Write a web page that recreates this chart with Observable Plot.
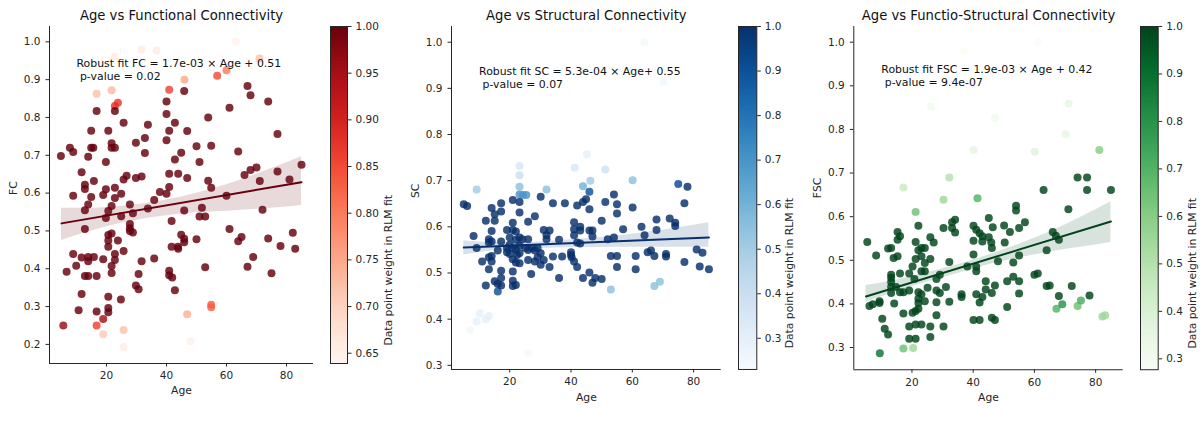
<!DOCTYPE html>
<html><head><meta charset="utf-8">
<script src="https://cdn.jsdelivr.net/npm/d3@7"></script>
<script src="https://cdn.jsdelivr.net/npm/@observablehq/plot@0.6"></script>
<style>
body{margin:0;background:#fff;font-family:"DejaVu Sans",sans-serif;}
#chart{position:relative;width:1200px;height:422px;overflow:hidden;background:#fff;}
#chart svg{position:absolute;top:0;}
</style></head><body><div id="chart"></div>
<script>
// ---------- Data: [age, value, weight] ----------
const fcPoints = [
[63,1.0,0.645],[31.7,0.98,0.66],[36.7,0.977,0.66],[22.8,0.96,0.66],[71,0.956,0.72],[60,0.925,0.8],[56.9,0.91,0.85],[46,0.9,0.75],[40.9,0.873,0.86],[16.7,0.863,0.72],[21.7,0.872,0.73],[23.8,0.839,0.87],[22.8,0.83,0.88],[16.7,0.25,0.86],[18.9,0.267,0.95],[18.9,0.227,0.71],[25.7,0.238,0.72],[25.7,0.193,0.66],[46.9,0.28,0.74],[48,0.208,0.65],[54.9,0.305,0.83],[54.9,0.298,0.83],
[4.8,0.698,1],[5.6,0.25,0.96],[6.7,0.392,1],[7.8,0.72,1],[8.9,0.709,1],[8.9,0.593,1],[8.9,0.439,1],[9.9,0.408,1],[10.7,0.29,1],[11.7,0.655,1],[11.7,0.43,1],[11.7,0.333,1],[12.8,0.622,1],[12.8,0.611,1],[12.8,0.555,1],[12.8,0.505,1],[12.8,0.381,1],[13.9,0.696,1],[13.9,0.57,1],[13.9,0.431,1],[13.9,0.42,1],[13.9,0.381,1],[14.9,0.765,1],[14.9,0.72,1],[14.9,0.59,1],[15.6,0.72,1],[15.8,0.632,1],[15.8,0.431,1],[16.7,0.817,1],[16.7,0.381,1],[16.7,0.287,1],[18.9,0.425,1],[18.9,0.595,1],[19.8,0.682,1],[19.8,0.61,1],[19.8,0.534,1],[20.6,0.765,1],[20.6,0.553,1],[20.6,0.489,1],[20.6,0.475,1],[20.6,0.458,1],[20.6,0.326,1],[20.6,0.296,1],[20.6,0.285,1],[21.7,0.732,1],[21.7,0.72,1],[21.7,0.566,1],[21.7,0.493,1],[21.7,0.407,1],[21.7,0.389,1],[22.8,0.817,1],[22.8,0.72,1],[22.8,0.614,1],[22.8,0.587,1],[22.8,0.439,1],[22.8,0.423,1],[23.8,0.475,1],[24.8,0.319,1],[24.9,0.598,1],[24.9,0.539,1],[25.7,0.786,1],[25.7,0.636,1],[25.7,0.447,1],[26.7,0.646,1],[27.8,0.57,1],[27.8,0.518,1],[27.8,0.507,1],[27.8,0.5,1],[28.8,0.547,1],[28.8,0.496,1],[29.8,0.733,1],[29.8,0.64,1],[29.8,0.356,1],[30.7,0.386,1],[30.7,0.346,1],[31.7,0.644,1],[31.7,0.42,1],[32.8,0.746,1],[32.8,0.706,1],[33.8,0.781,1],[33.8,0.559,1],[35.9,0.427,1],[35.9,0.582,1],[37.8,0.603,1],[40,0.842,1],[40,0.809,1],[40,0.74,1],[40,0.598,1],[40.9,0.765,1],[40.9,0.651,1],[40.9,0.616,1],[40.9,0.395,1],[40.9,0.383,1],[41.7,0.458,1],[41.7,0.526,1],[41.9,0.377,1],[42.8,0.786,1],[42.8,0.689,1],[42.8,0.343,1],[43.8,0.458,1],[43.9,0.651,1],[43.9,0.453,1],[44.9,0.707,1],[44.9,0.49,1],[45.9,0.554,1],[45.9,0.479,1],[45.9,0.47,1],[45.9,0.87,1],[46.9,0.764,1],[46.9,0.64,1],[50,0.724,1],[50,0.478,1],[51,0.682,1],[51,0.538,1],[51.8,0.561,1],[52.9,0.538,1],[52.9,0.404,1],[53.9,0.8,1],[53.9,0.633,1],[54.9,0.725,1],[54.9,0.614,1],[60,0.593,1],[61,0.826,1],[61,0.505,1],[63.9,0.71,1],[63.9,0.473,1],[65,0.484,1],[66,0.648,1],[67,0.883,1],[67,0.405,1],[68,0.661,1],[68,0.859,1],[68.9,0.431,1],[70,0.668,1],[71.1,0.632,1],[72,0.556,1],[73.9,0.842,1],[73.9,0.48,1],[75,0.388,1],[77,0.756,1],[77,0.657,1],[78,0.46,1],[81,0.636,1],[82.1,0.495,1],[82.9,0.453,1],[85,0.675,1]
];
const scPoints = [
[64,1.0,0.25],[70.2,0.915,0.26],[23.2,0.732,0.35],[23.2,0.712,0.4],[41.2,0.728,0.35],[45.2,0.757,0.3],[51.2,0.724,0.38],[60.1,0.701,0.55],[46.3,0.70,0.5],[43.9,0.688,0.6],[23.2,0.687,0.55],[9.2,0.681,0.5],[32,0.681,0.55],[23.2,0.67,0.7],[24.3,0.669,0.7],[25.4,0.669,0.7],[53,0.464,0.55],[67.2,0.472,0.55],[69,0.481,0.55],[7.1,0.377,0.25],[9.2,0.395,0.3],[10.2,0.413,0.3],[12.2,0.40,0.3],[13.2,0.407,0.3],[26,0.327,0.24],
[5,0.649,1],[6.1,0.645,1],[8.2,0.58,1],[9.2,0.554,1],[11,0.525,1],[12.2,0.613,1],[12.2,0.473,1],[13.2,0.573,1],[13.2,0.566,1],[13.2,0.534,1],[13.2,0.508,1],[14.1,0.641,1],[14.1,0.591,1],[14.1,0.568,1],[14.1,0.525,1],[14.1,0.537,1],[15.1,0.627,1],[15.1,0.613,1],[15.1,0.482,1],[16.1,0.549,1],[16.1,0.476,1],[16.1,0.46,0.9],[17.2,0.651,1],[17.2,0.633,1],[17.2,0.568,1],[17.2,0.505,1],[17.2,0.489,1],[17.2,0.473,1],[19.1,0.593,1],[19.1,0.554,1],[19.1,0.545,1],[20,0.577,1],[20,0.561,1],[20,0.541,1],[21,0.658,1],[21,0.609,1],[21,0.593,1],[21,0.554,1],[21,0.53,1],[21,0.503,1],[21,0.483,1],[21,0.472,1],[22,0.59,1],[22,0.572,1],[22,0.55,1],[22,0.523,1],[22,0.474,1],[22.4,0.539,1],[23.2,0.654,1],[23.2,0.631,1],[23.2,0.577,1],[23.2,0.559,1],[23.2,0.543,1],[23.2,0.521,1],[24.1,0.573,1],[25.1,0.554,1],[26,0.611,1],[26,0.573,1],[26,0.528,1],[26,0.55,1],[27,0.498,1],[27.2,0.554,1],[28.2,0.623,1],[28.2,0.549,1],[28.2,0.525,1],[29.1,0.554,1],[29.1,0.534,1],[30.1,0.665,1],[30.1,0.543,1],[30.1,0.518,1],[31.1,0.593,1],[31.1,0.528,1],[32,0.582,1],[32,0.573,1],[33,0.592,1],[33,0.513,1],[34.1,0.651,1],[34.1,0.536,1],[36.1,0.489,1],[36.1,0.572,1],[37.1,0.536,1],[38,0.651,1],[40,0.545,1],[40,0.539,1],[40.2,0.534,1],[41,0.61,1],[41,0.595,1],[41,0.582,1],[41,0.525,1],[42,0.646,1],[42,0.566,1],[42,0.513,1],[43,0.60,1],[43,0.592,1],[43,0.564,1],[43.9,0.654,1],[43.9,0.489,1],[44.9,0.66,1],[46,0.676,0.9],[46,0.638,1],[46,0.592,1],[46,0.501,1],[47,0.592,1],[47,0.579,1],[47,0.479,1],[47.9,0.489,1],[50,0.487,1],[50,0.613,1],[51.2,0.654,1],[52,0.573,1],[53,0.537,1],[54,0.67,1],[54,0.577,1],[55,0.649,1],[55,0.629,1],[55,0.537,1],[55,0.513,1],[57,0.595,1],[60.1,0.642,1],[61.1,0.537,1],[61.1,0.508,1],[63,0.60,1],[64,0.582,1],[65,0.545,1],[66.1,0.549,1],[67.2,0.537,1],[67.9,0.616,1],[67.9,0.593,1],[71,0.541,1],[71,0.536,1],[72.2,0.618,1],[74,0.609,1],[74,0.602,1],[75,0.693,0.92],[77,0.651,1],[77,0.524,1],[78,0.687,1],[81,0.551,1],[82,0.514,1],[82.9,0.544,1],[85,0.508,1]
];
const fscPoints = [
[61.1,1.0,0.28],[37,0.979,0.28],[71.2,0.859,0.35],[26.2,0.852,0.3],[47.1,0.826,0.3],[70.2,0.789,0.35],[40.2,0.753,0.35],[60.1,0.749,0.38],[81.2,0.753,0.6],[32.2,0.69,0.5],[17.2,0.667,0.45],[30.3,0.639,0.55],[41.4,0.642,0.7],[21.2,0.611,0.65],[17.2,0.298,0.65],[20.4,0.299,0.55],[67.2,0.389,0.7],[69.1,0.399,0.8],[74.1,0.395,0.65],[75.2,0.408,0.72],[82.2,0.371,0.55],[83.1,0.374,0.55],[9.5,0.287,0.88],
[5.4,0.542,1],[6.1,0.395,1],[7.2,0.399,1],[8.3,0.511,1],[9.4,0.406,1],[9.4,0.402,1],[10.3,0.366,1],[11.1,0.343,1],[12.2,0.33,1],[12.2,0.527,1],[13.2,0.528,1],[13.2,0.467,1],[13.2,0.46,1],[13.2,0.45,1],[13.2,0.439,1],[13.2,0.425,1],[14,0.505,1],[14.2,0.401,1],[14.8,0.439,1],[15.3,0.565,1],[15.3,0.547,1],[15.3,0.509,1],[16.1,0.555,1],[16.1,0.47,1],[16.1,0.427,1],[17.2,0.378,1],[17.2,0.427,1],[19.1,0.47,1],[19.1,0.431,1],[19.1,0.348,1],[19.1,0.32,1],[20.2,0.38,1],[20.2,0.486,1],[20.8,0.457,1],[21.2,0.542,1],[21.2,0.503,1],[21.2,0.384,1],[21.2,0.353,1],[21.2,0.32,1],[22.1,0.579,1],[22.1,0.523,1],[22.1,0.427,1],[22.1,0.412,1],[22.1,0.402,1],[22.1,0.389,1],[23.1,0.528,1],[23.1,0.509,1],[23.1,0.475,1],[23.1,0.422,1],[23.1,0.353,1],[24.2,0.528,1],[24.2,0.494,1],[24.2,0.475,1],[24.2,0.406,1],[25.1,0.437,1],[26,0.553,1],[26,0.503,1],[26,0.348,1],[26,0.324,1],[27.1,0.541,1],[28,0.457,1],[28,0.431,1],[28,0.404,1],[28,0.374,1],[29.1,0.467,1],[29.1,0.425,1],[30.3,0.574,1],[30.3,0.348,1],[31.1,0.439,1],[32.2,0.496,1],[32.2,0.405,1],[33.1,0.587,1],[33.1,0.574,1],[34.1,0.593,1],[34.1,0.564,1],[36.2,0.422,1],[36.2,0.416,1],[38.1,0.486,1],[40.1,0.579,1],[40.1,0.545,1],[40.1,0.513,1],[40.1,0.363,1],[41,0.57,1],[41,0.485,1],[41,0.422,1],[41,0.475,1],[42.1,0.562,1],[42.1,0.403,1],[42.1,0.363,1],[43,0.555,1],[43,0.543,1],[43,0.416,1],[44.1,0.452,1],[44.1,0.433,1],[45.1,0.597,1],[45.1,0.553,1],[45.9,0.541,1],[46.1,0.528,1],[46.1,0.425,1],[46.1,0.368,1],[46.4,0.576,1],[47.1,0.363,1],[47.1,0.442,1],[48.1,0.498,1],[50.1,0.58,1],[50.3,0.541,1],[51.1,0.452,1],[51.1,0.393,1],[52,0.565,1],[53.1,0.495,1],[53.1,0.462,1],[54,0.625,1],[54,0.614,1],[55,0.574,1],[55,0.511,1],[55,0.452,1],[55,0.424,1],[56.9,0.587,1],[60,0.467,1],[61.1,0.47,1],[63,0.661,1],[64,0.523,1],[64,0.441,1],[65,0.442,1],[66,0.565,1],[67,0.556,1],[68,0.547,1],[68,0.418,1],[71.1,0.617,1],[72.2,0.441,1],[74.1,0.69,1],[77.2,0.69,1],[77.2,0.661,1],[78,0.419,1],[85,0.661,1]
];
// fitted lines [age, value]
const fcFit = [[5,0.520],[85,0.629]];
const scFit = [[5,0.555],[85,0.577]];
const fscFit = [[5,0.417],[85,0.589]];
// confidence bands [age, low, high]
const fcBand = [[5,0.475,0.56],[15,0.50,0.56],[25,0.52,0.565],[35,0.535,0.575],[45,0.545,0.59],[55,0.55,0.61],[65,0.555,0.635],[75,0.56,0.665],[85,0.567,0.696]];
const scBand = [[5,0.539,0.57],[15,0.548,0.566],[25,0.552,0.566],[35,0.554,0.570],[45,0.555,0.574],[55,0.556,0.580],[65,0.556,0.588],[75,0.556,0.598],[85,0.556,0.609]];
const fscBand = [[5,0.404,0.442],[15,0.428,0.455],[25,0.450,0.472],[35,0.470,0.490],[45,0.49,0.512],[55,0.505,0.537],[65,0.519,0.565],[75,0.530,0.598],[85,0.541,0.634]];
// texts and ticks
const titles = ["Age vs Functional Connectivity","Age vs Structural Connectivity","Age vs Functio-Structural Connectivity"];
const yLabels = ["FC","SC","FSC"];
const annotations = ["Robust fit FC = 1.7e-03 \u00d7 Age + 0.51\n\u00a0p-value = 0.02","Robust fit SC = 5.3e-04 \u00d7 Age+ 0.55\n\u00a0p-value = 0.07","Robust fit FSC = 1.9e-03 \u00d7 Age + 0.42\n\u00a0p-value = 9.4e-07"];
const xTicks = [20,40,60,80];
const fcYTicks = [0.2,0.3,0.4,0.5,0.6,0.7,0.8,0.9,1.0];
const scYTicks = [0.3,0.4,0.5,0.6,0.7,0.8,0.9,1.0];
const fscYTicks = [0.3,0.4,0.5,0.6,0.7,0.8,0.9,1.0];
const fcCbTicks = [0.65,0.70,0.75,0.80,0.85,0.90,0.95,1.00];
const scCbTicks = [0.3,0.4,0.5,0.6,0.7,0.8,0.9,1.0];
const fscCbTicks = [0.3,0.4,0.5,0.6,0.7,0.8,0.9,1.0];
const cbLabel = "Data point weight in RLM fit";

const H = 422;
const INK = "#262626";
const panels = [
 {pts:fcPoints, fit:fcFit, band:fcBand, title:titles[0], ylab:yLabels[0], ann:annotations[0], yTicks:fcYTicks, cbTicks:fcCbTicks, cbFmt:".2f",
  scheme:"reds", lineColor:"#67000d", wDom:[0.639,1.0], yDom:[0.1495,1.0405],
  svgLeft:0, axL:49, axR:313, axT:26, axB:363, cbL:330, cbR:347, cbB:363, cbLabX:388, ageY:390},
 {pts:scPoints, fit:scFit, band:scBand, title:titles[1], ylab:yLabels[1], ann:annotations[1], yTicks:scYTicks, cbTicks:scCbTicks, cbFmt:".1f",
  scheme:"blues", lineColor:"#08306b", wDom:[0.23,1.0], yDom:[0.291,1.034],
  svgLeft:400, axL:451, axR:720.7, axT:26, axB:369, cbL:737.7, cbR:756, cbB:369, cbLabX:789, ageY:397.5},
 {pts:fscPoints, fit:fscFit, band:fscBand, title:titles[2], ylab:yLabels[2], ann:annotations[2], yTicks:fscYTicks, cbTicks:fscCbTicks, cbFmt:".1f",
  scheme:"greens", lineColor:"#00441b", wDom:[0.277,1.0], yDom:[0.249,1.036],
  svgLeft:800, axL:853.3, axR:1122.7, axT:26, axB:369.3, cbL:1140, cbR:1157.7, cbB:369.3, cbLabX:1191.7, ageY:397.5}
];

const chart = document.getElementById("chart");
const style = {fontFamily:"DejaVu Sans, sans-serif", fontSize:"10.5px", color:INK, background:"transparent", overflow:"visible"};

for (const p of panels) {
  const width = p.axR - p.svgLeft + 6;
  const main = Plot.plot({
    width, height: H,
    marginLeft: p.axL - p.svgLeft, marginRight: 6, marginTop: p.axT, marginBottom: H - p.axB,
    style,
    x: {domain:[1,89]},
    y: {domain:p.yDom},
    color: {type:"linear", scheme:p.scheme, domain:p.wDom},
    marks: [
      Plot.dot(p.pts, {x:d=>d[0], y:d=>d[1], fill:d=>d[2], r:4, fillOpacity:0.82}),
      Plot.areaY(p.band, {x:d=>d[0], y1:d=>d[1], y2:d=>d[2], fill:p.lineColor, fillOpacity:0.15, curve:"monotone-x"}),
      Plot.line(p.fit, {x:d=>d[0], y:d=>d[1], stroke:p.lineColor, strokeWidth:2}),
      Plot.axisX({ticks:xTicks, tickSize:3.5, tickPadding:5, label:null, fontSize:10.5}),
      Plot.axisY({ticks:p.yTicks, tickFormat:d3.format(".1f"), tickSize:3.5, tickPadding:5.5, label:null, fontSize:10.5}),
      Plot.ruleX([1], {stroke:INK, strokeWidth:1}),
      Plot.ruleY([p.yDom[0]], {stroke:INK, strokeWidth:1}),
      Plot.text([p.title], {frameAnchor:"top", dy:-11, fontSize:13.2, lineAnchor:"middle", fill:"#111"}),
      Plot.text([p.ylab], {frameAnchor:"left", dx:-36.3, rotate:-90, fontSize:10.8, fill:INK}),
      Plot.text(["Age"], {frameAnchor:"bottom", dy:p.ageY - p.axB, fontSize:10.8, lineAnchor:"middle", fill:INK}),
      Plot.text([p.ann], {x:()=>10, y:()=>0.9, textAnchor:"start", lineAnchor:"bottom", fontSize:10.9, lineHeight:1.2, fill:"#111"})
    ]
  });
  main.style.left = p.svgLeft + "px";
  chart.appendChild(main);

  const cbW = p.cbR - p.cbL;
  const cb = Plot.plot({
    width: 1 + cbW + 60, height: H,
    marginLeft: 1, marginRight: 60, marginTop: p.axT, marginBottom: H - p.cbB,
    style,
    x: {domain:[0,1], axis:null},
    y: {domain:[p.wDom[0], 1]},
    color: {type:"linear", scheme:p.scheme, domain:p.wDom},
    marks: [
      Plot.raster({x1:0, x2:1, y1:p.wDom[0], y2:1, fill:(x,y)=>y, width:1, height:256, imageRendering:"auto"}),
      Plot.frame({stroke:INK, strokeWidth:1}),
      Plot.axisY({anchor:"right", ticks:p.cbTicks, tickFormat:d3.format(p.cbFmt), tickSize:3.5, tickPadding:4.5, label:null, fontSize:10.5}),
      Plot.text([cbLabel], {frameAnchor:"right", dx:p.cbLabX - p.cbR, rotate:-90, fontSize:10.8, fill:INK})
    ]
  });
  cb.style.left = (p.cbL - 1) + "px";
  chart.appendChild(cb);
}
</script></body></html>
